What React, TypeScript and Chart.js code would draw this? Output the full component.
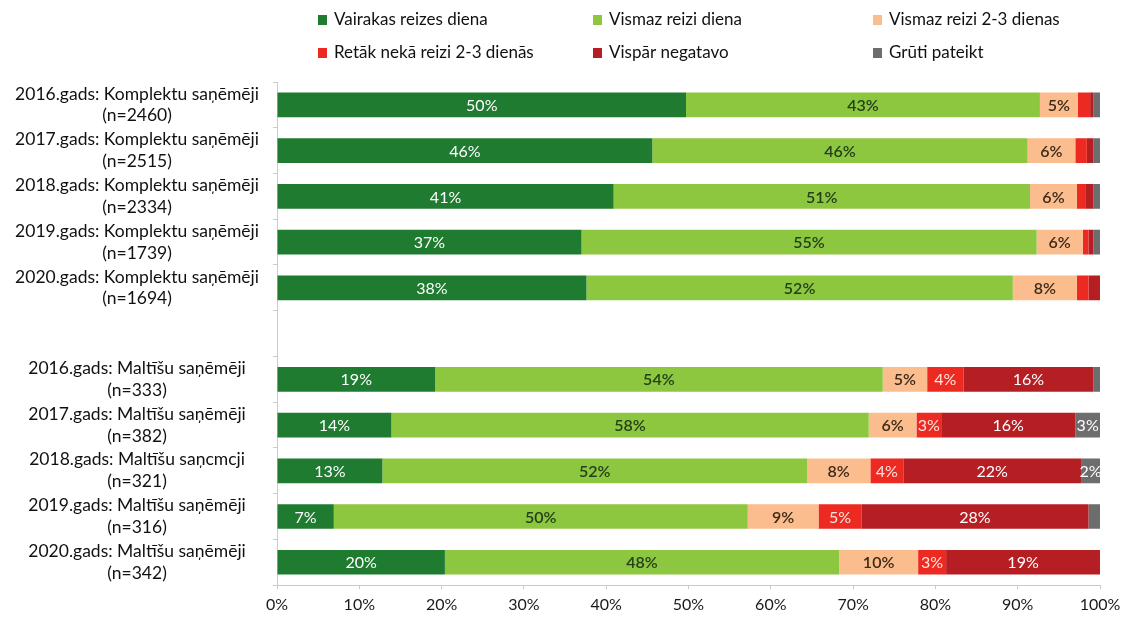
import React, { useEffect, useRef } from 'react';
import { Chart, registerables } from 'chart.js';

Chart.register(...registerables);

const categories: string[][] = [
  ['2016.gads: Komplektu saņēmēji', '(n=2460)'],
  ['2017.gads: Komplektu saņēmēji', '(n=2515)'],
  ['2018.gads: Komplektu saņēmēji', '(n=2334)'],
  ['2019.gads: Komplektu saņēmēji', '(n=1739)'],
  ['2020.gads: Komplektu saņēmēji', '(n=1694)'],
  [''],
  ['2016.gads: Maltīšu saņēmēji', '(n=333)'],
  ['2017.gads: Maltīšu saņēmēji', '(n=382)'],
  ['2018.gads: Maltīšu saņcmcji', '(n=321)'],
  ['2019.gads: Maltīšu saņēmēji', '(n=316)'],
  ['2020.gads: Maltīšu saņēmēji', '(n=342)'],
];

const seriesNames = [
  'Vairakas reizes diena',
  'Vismaz reizi diena',
  'Vismaz reizi 2-3 dienas',
  'Retāk nekā reizi 2-3 dienās',
  'Vispār negatavo',
  'Grūti pateikt',
];

const vairakasReizes = [49.7, 45.6, 40.9, 37.0, 37.6, null, 19.2, 13.9, 12.8, 6.9, 20.4];
const vismazDiena = [43.0, 45.6, 50.6, 55.3, 51.8, null, 54.4, 58.0, 51.6, 50.3, 47.9];
const vismaz23 = [4.6, 5.8, 5.7, 5.6, 7.8, null, 5.4, 5.8, 7.7, 8.6, 9.6];
const retak = [1.5, 1.4, 1.0, 0.7, 1.4, null, 4.4, 3.0, 4.0, 5.2, 3.4];
const negatavo = [0.4, 0.8, 1.0, 0.6, 1.4, null, 15.8, 16.3, 21.6, 27.6, 18.7];
const gruti = [0.8, 0.8, 0.8, 0.8, 0, null, 0.8, 3.0, 2.3, 1.4, 0];

const xTicks = [0, 10, 20, 30, 40, 50, 60, 70, 80, 90, 100];

const colors = ['#1e7b30', '#8dc63f', '#fbbd8e', '#ec2a22', '#b51f24', '#6d6d6d'];
const labelColors = ['#ffffff', '#24401a', '#3d2a18', '#ffe6e0', '#ffffff', '#ffffff'];
const labelWeights = ['normal', '600', '600', 'normal', 'normal', 'normal'];

const FONT = 'Lato, "Noto Sans", sans-serif';

const valueLabelPlugin = {
  id: 'valueLabels',
  afterDatasetsDraw(chart: any) {
    const ctx = chart.ctx;
    ctx.save();
    ctx.textAlign = 'center';
    ctx.textBaseline = 'middle';
    chart.data.datasets.forEach((ds: any, di: number) => {
      const meta = chart.getDatasetMeta(di);
      meta.data.forEach((el: any, i: number) => {
        const v = ds.data[i];
        if (v == null || v < 2) return;
        const x = (el.x + el.base) / 2;
        ctx.fillStyle = labelColors[di];
        ctx.font = `${labelWeights[di]} 16px ${FONT}`;
        ctx.fillText(Math.round(v) + '%', x, el.y + 1);
      });
    });
    ctx.restore();
  },
};

const legendPlugin = {
  id: 'gridLegend',
  afterDraw(chart: any) {
    const ctx = chart.ctx;
    const cols = [322, 597, 877];
    const rows = [20, 53];
    ctx.save();
    ctx.textAlign = 'left';
    ctx.textBaseline = 'middle';
    ctx.font = `17px ${FONT}`;
    seriesNames.forEach((name, i) => {
      const x = cols[i % 3];
      const y = rows[Math.floor(i / 3)];
      ctx.fillStyle = colors[i];
      ctx.fillRect(x - 4, y - 5, 9, 10);
      ctx.fillStyle = '#111';
      ctx.fillText(name, x + 12, y);
    });
    ctx.restore();
  },
};

export default function App() {
  const ref = useRef<HTMLCanvasElement | null>(null);
  useEffect(() => {
    if (!ref.current) return;
    const series = [vairakasReizes, vismazDiena, vismaz23, retak, negatavo, gruti];
    const chart = new Chart(ref.current, {
      type: 'bar',
      data: {
        labels: categories,
        datasets: series.map((d, i) => ({
          label: seriesNames[i],
          data: d,
          backgroundColor: colors[i],
          borderWidth: 0,
          categoryPercentage: 1,
          barPercentage: 0.54,
        })),
      },
      options: {
        indexAxis: 'y',
        responsive: true,
        maintainAspectRatio: false,
        animation: false,
        layout: { padding: { top: 82, left: 4, right: 24, bottom: 0 } },
        plugins: {
          legend: { display: false },
          tooltip: { enabled: false },
        },
        scales: {
          x: {
            stacked: true,
            min: 0,
            max: 100,
            afterBuildTicks: (scale: any) => {
              scale.ticks = xTicks.map((v) => ({ value: v }));
            },
            afterFit: (scale: any) => {
              scale.paddingRight = 0;
            },
            ticks: {
              callback: (v: any) => v + '%',
              color: '#1a1a1a',
              font: { family: FONT, size: 16 },
              padding: 6,
              maxRotation: 0,
            },
            grid: { drawOnChartArea: false, tickLength: 4, color: '#c4ccc4' },
            border: { color: '#c4ccc4' },
          },
          y: {
            stacked: true,
            afterFit: (scale: any) => {
              scale.width = 273;
            },
            ticks: {
              crossAlign: 'center',
              color: '#111',
              font: { family: FONT, size: 17.5, lineHeight: 1.25 },
              padding: 14,
              autoSkip: false,
            },
            grid: { drawOnChartArea: false, tickLength: 4, color: '#cccccc' },
            border: { color: '#cccccc' },
          },
        },
      } as any,
      plugins: [valueLabelPlugin, legendPlugin],
    });
    return () => chart.destroy();
  }, []);
  return (
    <div style={{ position: 'fixed', left: 0, top: 0, width: 1124, height: 621, background: '#fff' }}>
      <canvas ref={ref} />
    </div>
  );
}
